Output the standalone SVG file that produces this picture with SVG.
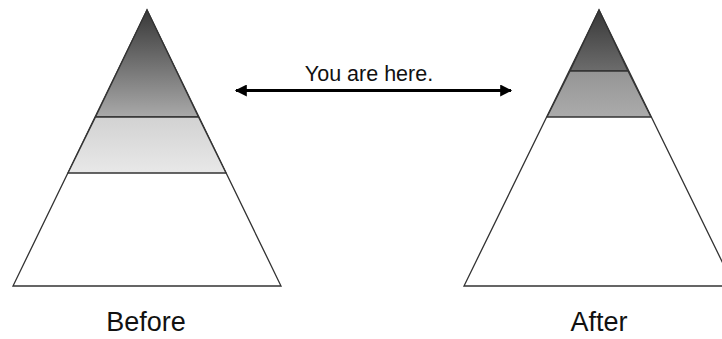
<svg xmlns="http://www.w3.org/2000/svg" width="722" height="339" viewBox="0 0 722 339">
<defs>
<linearGradient id="gTopL" x1="0" y1="0" x2="0" y2="1"><stop offset="0" stop-color="#383838"/><stop offset="1" stop-color="#a9a9a9"/></linearGradient>
<linearGradient id="gMidL" x1="0" y1="0" x2="0" y2="1"><stop offset="0" stop-color="#d2d2d2"/><stop offset="1" stop-color="#e8e8e8"/></linearGradient>
<linearGradient id="gTopR" x1="0" y1="0" x2="0" y2="1"><stop offset="0" stop-color="#383838"/><stop offset="1" stop-color="#6c6c6c"/></linearGradient>
<linearGradient id="gMidR" x1="0" y1="0" x2="0" y2="1"><stop offset="0" stop-color="#959595"/><stop offset="1" stop-color="#ababab"/></linearGradient>
<marker id="ah" viewBox="0 0 10 10" refX="9" refY="5" markerWidth="5" markerHeight="4" orient="auto-start-reverse" markerUnits="strokeWidth"><path d="M0,0 L10,5 L0,10 z" fill="#000"/></marker>
</defs>
<style>
.s{stroke:#333;stroke-width:1.3;stroke-linejoin:miter}
.t{font-family:"Liberation Sans",Arial,sans-serif;fill:#111}
</style>
<rect width="722" height="339" fill="#fff"/>
<g id="before">
<polygon class="s" points="147,10 13,286 281,286" fill="#fff"/>
<polygon class="s" points="147,10 95.5,117 198.5,117" fill="url(#gTopL)"/>
<polygon class="s" points="95.5,117 198.5,117 226,173 68,173" fill="url(#gMidL)"/>
<text class="t" x="146" y="331" font-size="27" text-anchor="middle">Before</text>
</g>
<g id="after">
<polygon class="s" points="599,10 464,286 734,286" fill="#fff"/>
<polygon class="s" points="599,10 570,71 628,71" fill="url(#gTopR)"/>
<polygon class="s" points="570,71 628,71 651,117 547,117" fill="url(#gMidR)"/>
<text class="t" x="599" y="331" font-size="27" text-anchor="middle">After</text>
</g>
<g id="connectors">
<line x1="236" y1="90.5" x2="511" y2="90.5" stroke="#000" stroke-width="3" marker-start="url(#ah)" marker-end="url(#ah)"/>
<text class="t" x="369" y="81" font-size="21.5" text-anchor="middle">You are here.</text>
</g>
</svg>
